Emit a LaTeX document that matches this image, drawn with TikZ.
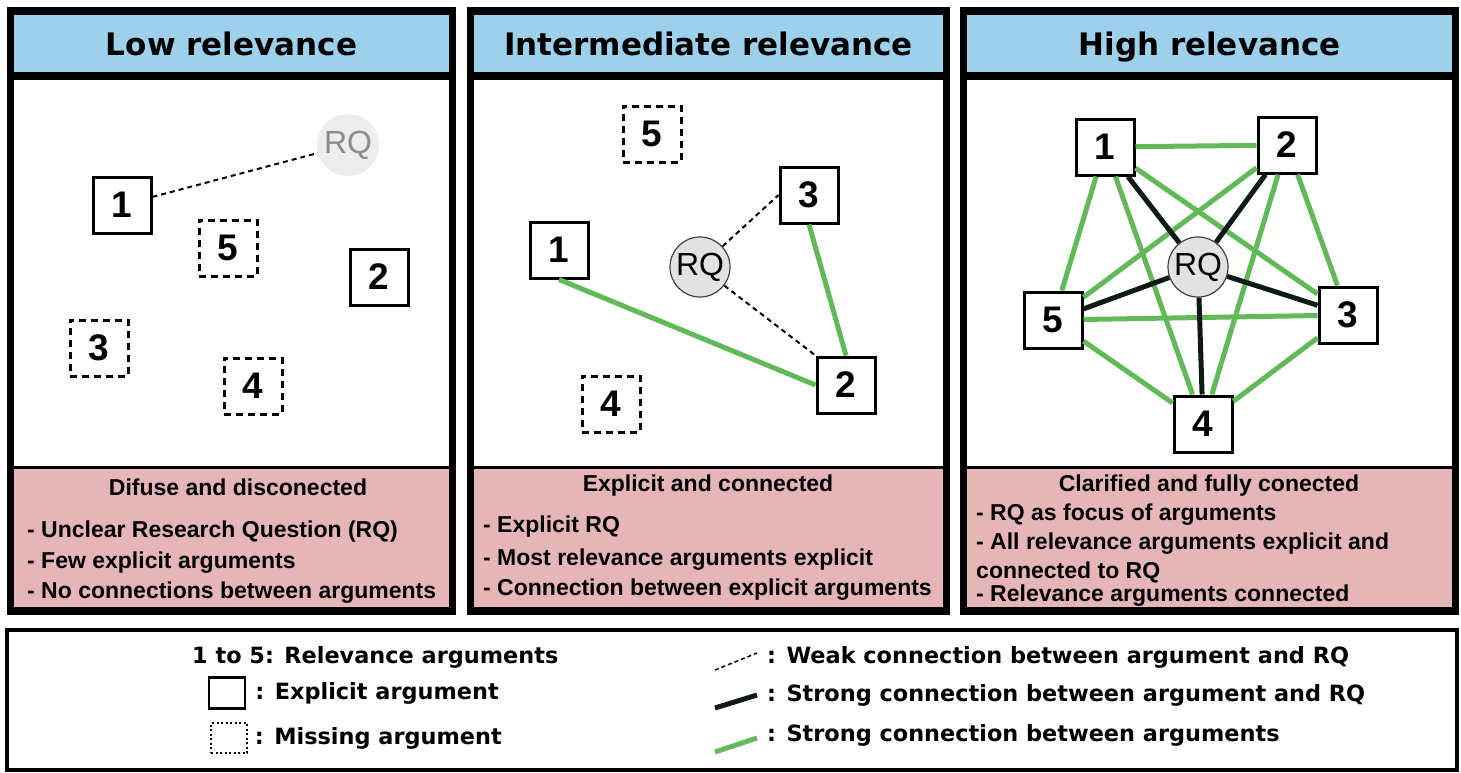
\documentclass[tikz,border=0pt]{standalone}
\usepackage{fontspec}
\setmainfont{Liberation Sans}
\newfontfamily\verdfont{DejaVu Sans}
\usetikzlibrary{positioning}

\definecolor{headblue}{HTML}{9DD0EB}
\definecolor{notepink}{HTML}{E5B5B8}
\definecolor{linkgreen}{HTML}{62B958}
\definecolor{edgeblack}{HTML}{0E1A18}
\definecolor{rqgray}{HTML}{E2E2E2}

\begin{document}
\begin{tikzpicture}[x=1pt, y=-1pt,
		arg/.style={draw, line width=3pt, fill=white, minimum width=58pt, minimum height=56pt, inner sep=0pt, font=\bfseries\fontsize{37}{40}\selectfont},
		missing/.style={arg, dash pattern=on 7pt off 5pt},
		rq/.style={circle, draw=black!75, line width=1.2pt, fill=rqgray, minimum size=60pt, inner sep=0pt, font=\fontsize{32}{34}\selectfont},
		faintrq/.style={circle, fill=black!7, text=black!45, minimum size=62pt, inner sep=0pt, font=\fontsize{32}{34}\selectfont},
		weak/.style={line width=2pt, dash pattern=on 5pt off 4pt},
		strong/.style={line width=5pt, draw=edgeblack},
		link/.style={line width=5pt, draw=linkgreen},
		headtext/.style={anchor=base, inner sep=0pt, font=\verdfont\bfseries\fontsize{31}{36}\selectfont},
		notetitle/.style={anchor=base, inner sep=0pt, font=\bfseries\fontsize{23}{26}\selectfont},
		noteitem/.style={anchor=base west, inner sep=0pt, font=\bfseries\fontsize{23}{26}\selectfont},
		legtext/.style={inner sep=0pt, font=\verdfont\bfseries\fontsize{22.4}{26}\selectfont}
		]
		
		\useasboundingbox (0,0) rectangle (1461,772);
		
		% three panels: frame, header, drawing area, notes
		\foreach \xl/\xr/\ttl [count=\i] in {7/456/Low relevance, 467/950/Intermediate relevance, 960/1459/High relevance} {
			\fill[black] (\xl,7) rectangle (\xr,615);
			\fill[headblue] (\xl+7,15) rectangle (\xr-7,72);
			\fill[white] (\xl+7,80) rectangle (\xr-7,466);
			\fill[notepink] (\xl+7,469) rectangle (\xr-7,607);
			\node[headtext] (head\i) at ({(\xl+\xr)/2},55) {\ttl};
		}
		
		% low relevance
		\node[faintrq] (rq1) at (348,145) {RQ};
		\node[arg] (a11) at (122,205) {1};
		\node[arg] (a12) at (379,277) {2};
		\node[missing] (a13) at (99,348) {3};
		\node[missing] (a14) at (253,386) {4};
		\node[missing] (a15) at (228,248) {5};
		\draw[weak] (a11) -- (rq1);
		
		\node[notetitle] (note1) at (238,495) {Difuse and disconected};
		\node[noteitem] (n11) at (27,537) {- Unclear Research Question (RQ)};
		\node[noteitem] (n12) at (27,568) {- Few explicit arguments};
		\node[noteitem] (n13) at (27,598) {- No connections between arguments};
		
		% intermediate relevance
		\node[rq] (rq2) at (700,267) {RQ};
		\node[arg] (b1) at (559,250) {1};
		\node[arg] (b2) at (846,385) {2};
		\node[arg] (b3) at (809,195) {3};
		\node[missing] (b4) at (611,404) {4};
		\node[missing] (b5) at (652,134) {5};
		\draw[link] (b1.south) -- (b2.west);
		\draw[link] (b3.south) -- (b2.north);
		\draw[weak] (rq2) -- (b3.west);
		\draw[weak] (rq2) -- (b2.north west);
		
		\node[notetitle] (note2) at (708,491) {Explicit and connected};
		\node[noteitem] (n21) at (483,532) {- Explicit RQ};
		\node[noteitem] (n22) at (483,565) {- Most relevance arguments explicit};
		\node[noteitem] (n23) at (483,595) {- Connection between explicit arguments};
		
		% high relevance
		\node[rq] (rq3) at (1198,267) {RQ};
		\node[arg] (c1) at (1105,147) {1};
		\node[arg] (c2) at (1287,145) {2};
		\node[arg] (c3) at (1348,315) {3};
		\node[arg] (c4) at (1203,424) {4};
		\node[arg] (c5) at (1053,320) {5};
		\foreach \p/\q in {1/2,1/3,1/4,1/5,2/3,2/4,2/5,3/4,3/5,4/5}
			\draw[link] (c\p) -- (c\q);
		\foreach \p in {1,...,5}
			\draw[strong] (rq3) -- (c\p);
		
		\node[notetitle] (note3) at (1209,491) {Clarified and fully conected};
		\node[noteitem] (n31) at (976,520) {- RQ as focus of arguments};
		\node[noteitem] (n32) at (976,549) {- All relevance arguments explicit and};
		\node[noteitem] (n33) at (976,578) {connected to RQ};
		\node[noteitem] (n34) at (976,601) {- Relevance arguments connected};
		
		% legend
		\draw[line width=4pt] (7,630) rectangle (1457,770);
		\node[legtext, anchor=west] (legnum) at (192,657) {1 to 5: Relevance arguments};
		\node[draw, line width=2.5pt, minimum width=36pt, minimum height=31pt, inner sep=0pt] (legexpl) at (227,693) {};
		\node[legtext, right=9pt of legexpl] (legexpltxt) {: Explicit argument};
		\node[draw, line width=1.5pt, dash pattern=on 2pt off 2.5pt, minimum width=36pt, minimum height=30pt, inner sep=0pt] (legmiss) at (229,738) {};
		\node[legtext, right=7pt of legmiss] (legmisstxt) {: Missing argument};
		
		\coordinate (wk1) at (715,670);
		\coordinate (wk2) at (757,653);
		\coordinate (st1) at (715,708);
		\coordinate (st2) at (757,695);
		\coordinate (gr1) at (715,752);
		\coordinate (gr2) at (757,738);
		\draw[line width=1.5pt, dash pattern=on 4pt off 3pt] (wk1) -- (wk2);
		\draw[strong] (st1) -- (st2);
		\draw[link] (gr1) -- (gr2);
		\node[legtext, anchor=west] (legweak) at (767,657) {: Weak connection between argument and RQ};
		\node[legtext, anchor=west] (legstrong) at (767,695) {: Strong connection between argument and RQ};
		\node[legtext, anchor=west] (leglink) at (767,735) {: Strong connection between arguments};
		
	\end{tikzpicture}
\end{document}
